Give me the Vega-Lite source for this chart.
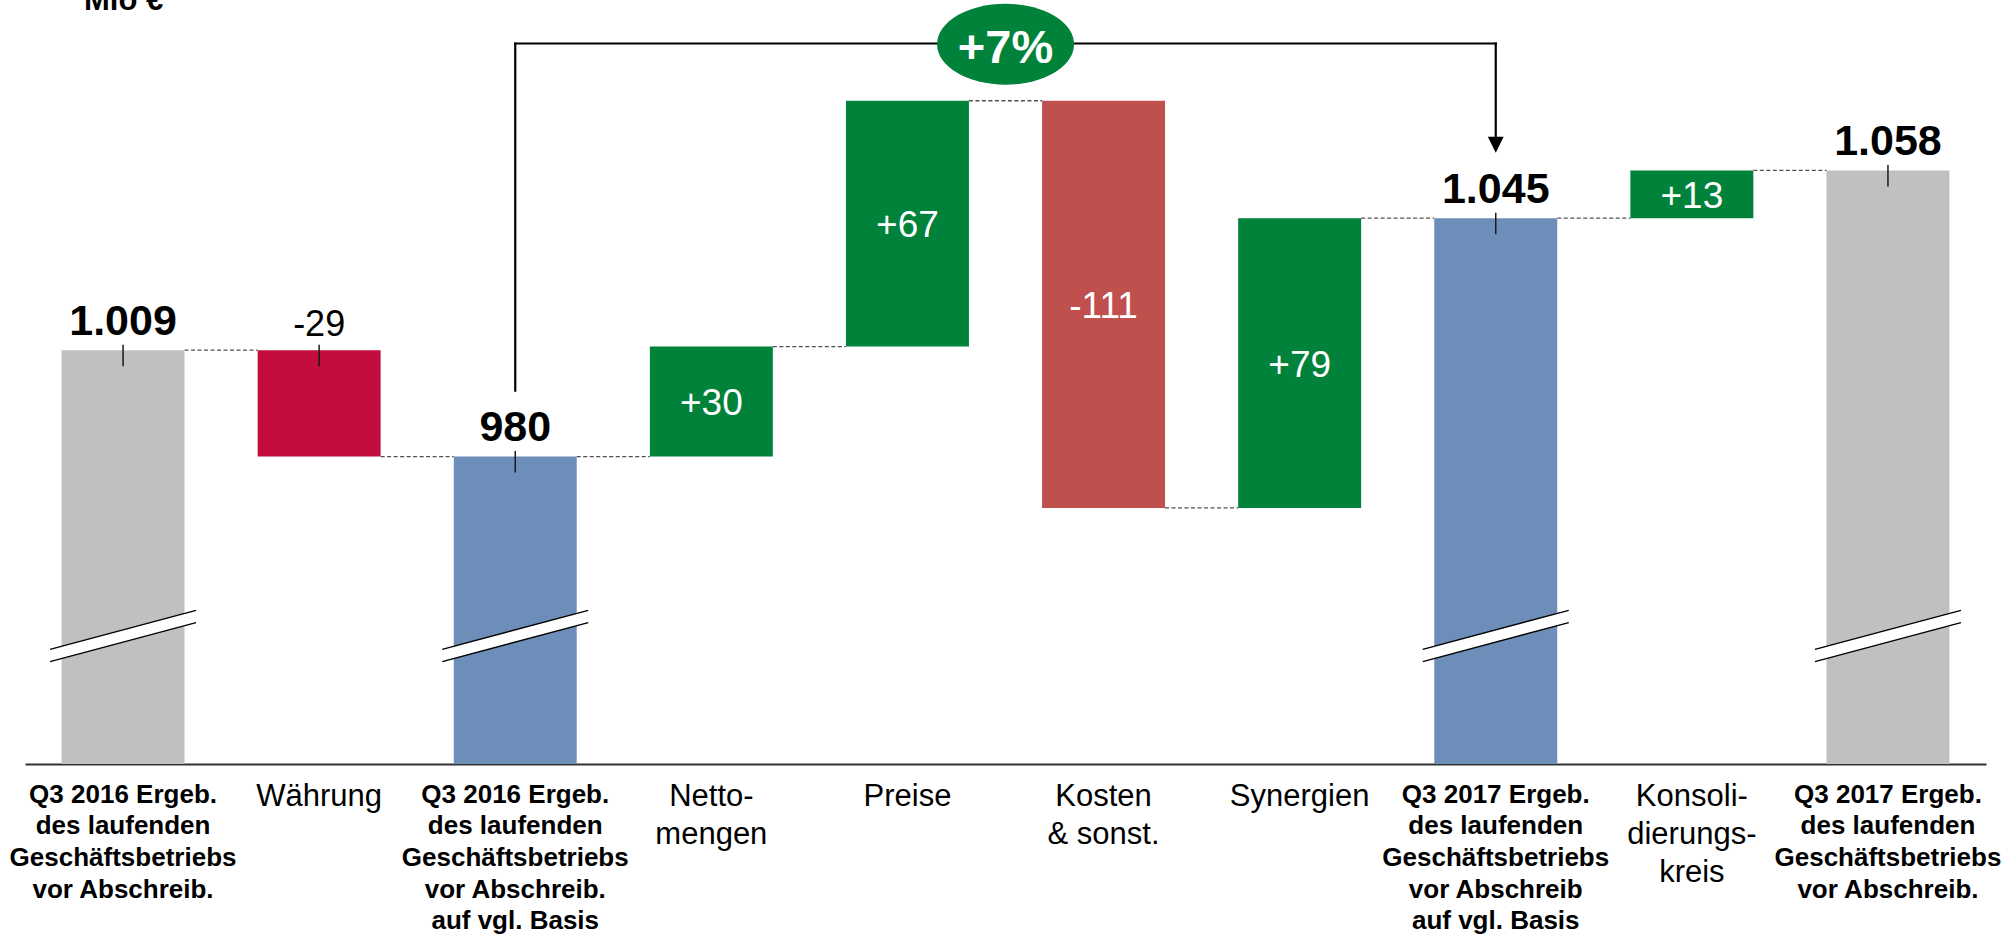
{
  "$schema": "https://vega.github.io/schema/vega-lite/v6.json",
  "width": 1961,
  "height": 748,
  "autosize": {"type": "none"},
  "padding": {"left": 25, "top": 16, "right": 30, "bottom": 170},
  "background": "white",
  "title": {
    "text": "Mio €",
    "anchor": "start",
    "frame": "group",
    "dx": 59,
    "offset": -37,
    "baseline": "alphabetic",
    "fontSize": 31,
    "fontWeight": "bold",
    "color": "#000000"
  },
  "config": {
    "view": {"stroke": null},
    "font": "Liberation Sans",
    "locale": {
      "number": {
        "decimal": ",",
        "thousands": ".",
        "grouping": [3],
        "currency": ["", " €"],
        "minus": "-"
      }
    }
  },
  "datasets": {
    "bars": [
      {"cat": "Q3 2016 Ergeb.|des laufenden|Geschäftsbetriebs|vor Abschreib.", "kind": "total", "end": 1009},
      {"cat": "Währung", "kind": "fx", "start": 1009, "end": 980},
      {"cat": "Q3 2016  Ergeb.|des laufenden|Geschäftsbetriebs|vor Abschreib.|auf vgl. Basis", "kind": "vgl", "end": 980},
      {"cat": "Netto-|mengen", "kind": "up", "start": 980, "end": 1010},
      {"cat": "Preise", "kind": "up", "start": 1010, "end": 1077},
      {"cat": "Kosten|& sonst.", "kind": "down", "start": 1077, "end": 966},
      {"cat": "Synergien", "kind": "up", "start": 966, "end": 1045},
      {"cat": "Q3 2017 Ergeb.|des laufenden|Geschäftsbetriebs|vor Abschreib|auf vgl. Basis", "kind": "vgl", "end": 1045},
      {"cat": "Konsoli-|dierungs-|kreis", "kind": "up", "start": 1045, "end": 1058},
      {"cat": "Q3 2017 Ergeb.|des laufenden|Geschäftsbetriebs|vor Abschreib.", "kind": "total", "end": 1058}
    ],
    "bracket": [
      {
        "from": "Q3 2016  Ergeb.|des laufenden|Geschäftsbetriebs|vor Abschreib.|auf vgl. Basis",
        "to": "Q3 2017 Ergeb.|des laufenden|Geschäftsbetriebs|vor Abschreib|auf vgl. Basis",
        "text": "+7%"
      }
    ]
  },
  "layer": [
    {
      "data": {"name": "bars"},
      "transform": [
        {"window": [{"op": "lead", "field": "cat", "as": "next"}]},
        {"filter": "datum.next != null"}
      ],
      "mark": {"type": "rule", "stroke": "#505050", "strokeWidth": 1.3, "strokeDash": [4, 2.5]},
      "encoding": {
        "x": {
          "field": "cat",
          "type": "nominal",
          "bandPosition": 1,
          "scale": {
            "domain": [
              "Q3 2016 Ergeb.|des laufenden|Geschäftsbetriebs|vor Abschreib.",
              "Währung",
              "Q3 2016  Ergeb.|des laufenden|Geschäftsbetriebs|vor Abschreib.|auf vgl. Basis",
              "Netto-|mengen",
              "Preise",
              "Kosten|& sonst.",
              "Synergien",
              "Q3 2017 Ergeb.|des laufenden|Geschäftsbetriebs|vor Abschreib|auf vgl. Basis",
              "Konsoli-|dierungs-|kreis",
              "Q3 2017 Ergeb.|des laufenden|Geschäftsbetriebs|vor Abschreib."
            ],
            "paddingInner": 0.373,
            "paddingOuter": 0.1865
          },
          "axis": {
            "title": null,
            "orient": "bottom",
            "labelAngle": 0,
            "labelExpr": "split(datum.value, '|')",
            "labelLimit": 0,
            "labelOverlap": false,
            "labelBound": false,
            "labelFlush": false,
            "labelColor": "#000000",
            "labelPadding": 17,
            "labelLineHeight": {"expr": "indexof(datum.value, 'Q3') === 0 ? 31.7 : 38.3"},
            "labelFontSize": {"condition": {"test": "indexof(datum.value, 'Q3') === 0", "value": 26}, "value": 31},
            "labelFontWeight": {"condition": {"test": "indexof(datum.value, 'Q3') === 0", "value": "bold"}, "value": "normal"},
            "ticks": false,
            "tickSize": 0,
            "grid": false,
            "domainColor": "#333333",
            "domainWidth": 2
          }
        },
        "x2": {"field": "next", "bandPosition": 0},
        "y": {
          "field": "end",
          "type": "quantitative",
          "scale": {"domain": [896.2, 1100.1], "zero": false, "nice": false},
          "axis": null
        }
      }
    },
    {
      "data": {"name": "bars"},
      "transform": [{"filter": "datum.kind == 'total' || datum.kind == 'vgl'"}],
      "mark": {"type": "bar", "clip": true},
      "encoding": {
        "x": {"field": "cat", "type": "nominal"},
        "y": {"field": "end", "type": "quantitative"},
        "color": {
          "field": "kind",
          "type": "nominal",
          "scale": {
            "domain": ["total", "vgl", "fx", "up", "down"],
            "range": ["#C0C0C0", "#6C8EB9", "#C30D3F", "#00823A", "#C0504D"]
          },
          "legend": null
        }
      }
    },
    {
      "data": {"name": "bars"},
      "transform": [{"filter": "datum.kind == 'fx' || datum.kind == 'up' || datum.kind == 'down'"}],
      "mark": {"type": "bar"},
      "encoding": {
        "x": {"field": "cat", "type": "nominal"},
        "y": {"field": "start", "type": "quantitative"},
        "y2": {"field": "end"},
        "color": {"field": "kind", "type": "nominal", "legend": null}
      }
    },
    {
      "data": {"name": "bars"},
      "transform": [{"filter": "datum.kind == 'total' || datum.kind == 'vgl'"}],
      "mark": {"type": "rule", "stroke": "#ffffff", "strokeWidth": 12, "strokeCap": "butt", "xOffset": -73, "x2Offset": 73, "yOffset": 19.5, "y2Offset": -19.5},
      "encoding": {
        "x": {"field": "cat", "type": "nominal"},
        "x2": {"field": "cat"},
        "y": {"datum": 931.1, "type": "quantitative"},
        "y2": {"datum": 931.1}
      }
    },
    {
      "data": {"name": "bars"},
      "transform": [{"filter": "datum.kind == 'total' || datum.kind == 'vgl'"}],
      "mark": {"type": "rule", "stroke": "#000000", "strokeWidth": 1.4, "xOffset": -73, "x2Offset": 73, "yOffset": 13.4, "y2Offset": -25.6},
      "encoding": {
        "x": {"field": "cat", "type": "nominal"},
        "x2": {"field": "cat"},
        "y": {"datum": 931.1, "type": "quantitative"},
        "y2": {"datum": 931.1}
      }
    },
    {
      "data": {"name": "bars"},
      "transform": [{"filter": "datum.kind == 'total' || datum.kind == 'vgl'"}],
      "mark": {"type": "rule", "stroke": "#000000", "strokeWidth": 1.4, "xOffset": -73, "x2Offset": 73, "yOffset": 25.6, "y2Offset": -13.4},
      "encoding": {
        "x": {"field": "cat", "type": "nominal"},
        "x2": {"field": "cat"},
        "y": {"datum": 931.1, "type": "quantitative"},
        "y2": {"datum": 931.1}
      }
    },
    {
      "data": {"name": "bars"},
      "transform": [{"filter": "datum.kind == 'total' || datum.kind == 'vgl'"}],
      "mark": {"type": "rule", "stroke": "#1a1a1a", "strokeWidth": 1.5, "yOffset": -5.5, "y2Offset": 16},
      "encoding": {
        "x": {"field": "cat", "type": "nominal"},
        "y": {"field": "end", "type": "quantitative"},
        "y2": {"field": "end"}
      }
    },
    {
      "data": {"name": "bars"},
      "transform": [{"filter": "datum.kind == 'fx'"}],
      "mark": {"type": "rule", "stroke": "#1a1a1a", "strokeWidth": 1.5, "yOffset": -5.5, "y2Offset": 16},
      "encoding": {
        "x": {"field": "cat", "type": "nominal"},
        "y": {"field": "start", "type": "quantitative"},
        "y2": {"field": "start"}
      }
    },
    {
      "data": {"name": "bars"},
      "transform": [{"filter": "datum.kind == 'total' || datum.kind == 'vgl'"}],
      "mark": {"type": "text", "fontSize": 43, "fontWeight": "bold", "color": "#000000", "baseline": "alphabetic", "dy": -15.5},
      "encoding": {
        "x": {"field": "cat", "type": "nominal"},
        "y": {"field": "end", "type": "quantitative"},
        "text": {"field": "end", "type": "quantitative", "format": ",d"}
      }
    },
    {
      "data": {"name": "bars"},
      "transform": [
        {"filter": "datum.kind == 'fx'"},
        {"calculate": "datum.end - datum.start", "as": "delta"}
      ],
      "mark": {"type": "text", "fontSize": 36, "color": "#000000", "baseline": "alphabetic", "dy": -14.5},
      "encoding": {
        "x": {"field": "cat", "type": "nominal"},
        "y": {"field": "start", "type": "quantitative"},
        "text": {"field": "delta", "type": "quantitative", "format": "+d"}
      }
    },
    {
      "data": {"name": "bars"},
      "transform": [
        {"filter": "datum.kind == 'up' || datum.kind == 'down'"},
        {"calculate": "datum.end - datum.start", "as": "delta"},
        {"calculate": "(datum.end + datum.start) / 2", "as": "mid"}
      ],
      "mark": {"type": "text", "fontSize": 37, "color": "#ffffff", "baseline": "middle", "dy": 2.5},
      "encoding": {
        "x": {"field": "cat", "type": "nominal"},
        "y": {"field": "mid", "type": "quantitative"},
        "text": {"field": "delta", "type": "quantitative", "format": "+d"}
      }
    },
    {
      "data": {"name": "bracket"},
      "mark": {"type": "rule", "stroke": "#000000", "strokeWidth": 2.2, "strokeCap": "square"},
      "encoding": {
        "x": {"field": "from", "type": "nominal"},
        "y": {"datum": 998.0, "type": "quantitative"},
        "y2": {"datum": 1092.6}
      }
    },
    {
      "data": {"name": "bracket"},
      "mark": {"type": "rule", "stroke": "#000000", "strokeWidth": 2.2, "strokeCap": "square"},
      "encoding": {
        "x": {"field": "from", "type": "nominal"},
        "x2": {"field": "to", "bandPosition": 0.5},
        "y": {"datum": 1092.6, "type": "quantitative"}
      }
    },
    {
      "data": {"name": "bracket"},
      "mark": {"type": "rule", "stroke": "#000000", "strokeWidth": 2.2, "strokeCap": "square"},
      "encoding": {
        "x": {"field": "to", "type": "nominal"},
        "y": {"datum": 1092.6, "type": "quantitative"},
        "y2": {"datum": 1067.1}
      }
    },
    {
      "data": {"name": "bracket"},
      "mark": {"type": "point", "shape": "M -1,-1 L 1,-1 L 0,1 Z", "size": 250, "filled": true, "fill": "#000000", "strokeWidth": 0, "opacity": 1},
      "encoding": {
        "x": {"field": "to", "type": "nominal"},
        "y": {"datum": 1065.0, "type": "quantitative"}
      }
    },
    {
      "data": {"name": "bracket"},
      "mark": {
        "type": "point",
        "shape": "M -1,0 C -1,-0.3259 -0.5523,-0.59 0,-0.59 C 0.5523,-0.59 1,-0.3259 1,0 C 1,0.3259 0.5523,0.59 0,0.59 C -0.5523,0.59 -1,0.3259 -1,0 Z",
        "size": 18769,
        "filled": true,
        "fill": "#00823A",
        "strokeWidth": 0,
        "opacity": 1,
        "xOffset": 490.3
      },
      "encoding": {
        "x": {"field": "from", "type": "nominal"},
        "y": {"datum": 1092.4, "type": "quantitative"}
      }
    },
    {
      "data": {"name": "bracket"},
      "mark": {"type": "text", "fontSize": 47, "fontWeight": "bold", "color": "#ffffff", "baseline": "alphabetic", "xOffset": 490.3},
      "encoding": {
        "x": {"field": "from", "type": "nominal"},
        "y": {"datum": 1087.3, "type": "quantitative"},
        "text": {"field": "text", "type": "nominal"}
      }
    }
  ]
}
